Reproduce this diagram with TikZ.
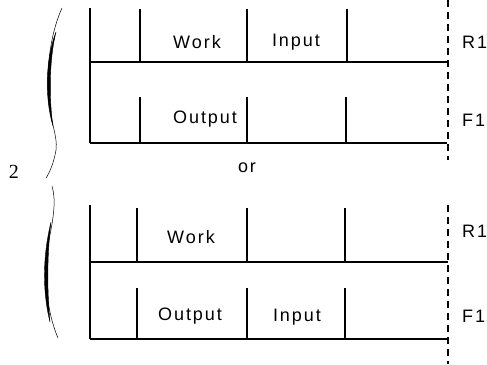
\documentclass[tikz,border=0pt]{standalone}
\usepackage{fontspec}
\newfontfamily\lblfont{Liberation Sans}[LetterSpace=11]
\newfontfamily\numfont{Liberation Serif}
\begin{document}
\begin{tikzpicture}[x=1pt,y=-1pt,
  wall/.style={line width=1.6pt},
  divider/.style={line width=1.4pt},
  rim/.style={line width=1.3pt,dash pattern=on 7pt off 5pt},
  lbl/.style={inner sep=0pt,font=\lblfont\fontsize{18}{21}\selectfont},
  bracethin/.style={line width=0.5pt},
  bracethick/.style={fill=black,draw=black,line width=0.4pt}]
\useasboundingbox (0,0) rectangle (487,364);
% ---------- top alternative ----------
\draw[wall] (90,8) -- (90,143);
\draw[wall] (90,62) -- (448,62);
\draw[wall] (90,143) -- (447,143);
\foreach \x in {140,247,347} \draw[divider] (\x,9) -- (\x,62);
\foreach \x in {140,247,346} \draw[divider] (\x,97) -- (\x,143);
\draw[rim] (448,0) -- (448,160);
\node[lbl] (w1) at (197,42) {Work};
\node[lbl] (i1) at (296,42) {Input};
\node[lbl] (o1) at (205,119) {Output};
\node[lbl,anchor=west] (r1a) at (462,42) {R1};
\node[lbl,anchor=west] (f1a) at (462,120) {F1};
% ---------- or ----------
\node[lbl] (or) at (247,168) {or};
% ---------- bottom alternative ----------
\draw[wall] (90,205) -- (90,339);
\draw[wall] (90,262) -- (448,262);
\draw[wall] (90,339) -- (448,339);
\foreach \x in {137,247,345} \draw[divider] (\x,208) -- (\x,262);
\foreach \x in {137,247,345} \draw[divider] (\x,288) -- (\x,339);
\draw[rim] (448,205) -- (448,364);
\node[lbl] (w2) at (191,237) {Work};
\node[lbl] (o2) at (190,316) {Output};
\node[lbl] (i2) at (297,317) {Input};
\node[lbl,anchor=west] (r1b) at (462,231) {R1};
\node[lbl,anchor=west] (f1b) at (462,316) {F1};
% ---------- brace and number ----------
\draw[bracethin] (62,8) .. controls (52,30) and (47,60) .. (48,90)
  .. controls (49,120) and (58,135) .. (56,150)
  .. controls (54,162) and (50,172) .. (46,178);
\draw[bracethick] (56,32) .. controls (45,60) and (45,100) .. (53,126)
  .. controls (49,100) and (49,60) .. (56,32) -- cycle;
\draw[bracethin] (52,186) .. controls (56,200) and (54,215) .. (49,240)
  .. controls (43,270) and (46,310) .. (58,338);
\draw[bracethick] (51,222) .. controls (43,255) and (42,290) .. (50,322)
  .. controls (47,290) and (47,255) .. (51,222) -- cycle;
\node[inner sep=0pt,font=\numfont\fontsize{20}{24}\selectfont] (two) at (14,172) {2};
\end{tikzpicture}
\end{document}
